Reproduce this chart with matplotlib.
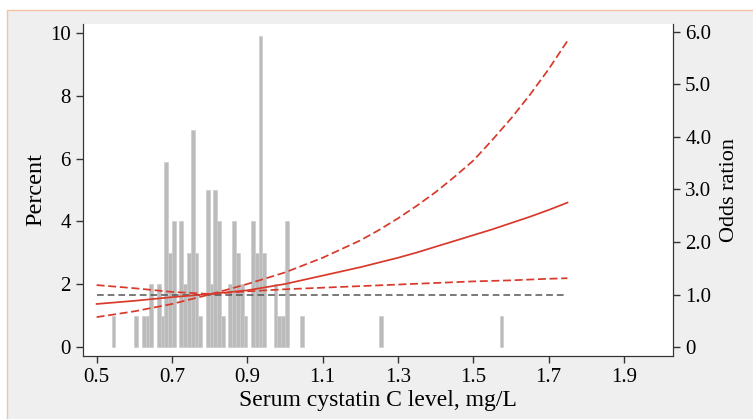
import matplotlib
matplotlib.use("Agg")
import matplotlib.pyplot as plt
from matplotlib.patches import Rectangle

plt.rcParams['font.family'] = ['Liberation Serif', 'DejaVu Serif']

# histogram of cystatin C (left edge of 0.01-wide bins, percent of patients)
bin_left = [0.54, 0.60, 0.62, 0.63, 0.64, 0.66, 0.67, 0.68, 0.69, 0.70,
            0.72, 0.73, 0.74, 0.75, 0.76, 0.77, 0.79, 0.80, 0.81, 0.82,
            0.83, 0.85, 0.86, 0.87, 0.88, 0.89, 0.91, 0.92, 0.93, 0.94,
            0.97, 0.98, 0.99, 1.00, 1.04, 1.25, 1.57]
percent = [1.0, 1.0, 1.0, 1.0, 2.0, 2.0, 1.0, 5.9, 3.0, 4.0,
           4.0, 2.0, 3.0, 6.9, 3.0, 1.0, 5.0, 2.0, 5.0, 4.0,
           1.0, 2.0, 4.0, 3.0, 2.0, 1.0, 4.0, 3.0, 9.9, 3.0,
           2.0, 1.0, 1.0, 4.0, 1.0, 1.0, 1.0]

# odds ratio curve and 95% CI
x_or = [0.5, 0.6, 0.7, 0.8, 0.9, 1.0, 1.1, 1.2, 1.25, 1.3, 1.35, 1.4,
        1.45, 1.5, 1.55, 1.6, 1.65, 1.7, 1.75]
or_mid = [0.82, 0.88, 0.95, 1.01, 1.08, 1.20, 1.36, 1.52, 1.61, 1.70, 1.80, 1.91,
          2.02, 2.13, 2.24, 2.36, 2.48, 2.61, 2.75]
or_up = [0.57, 0.68, 0.82, 1.00, 1.20, 1.42, 1.70, 2.03, 2.23, 2.45, 2.69, 2.95,
         3.24, 3.55, 3.94, 4.35, 4.80, 5.29, 5.83]
or_lo = [1.18, 1.12, 1.05, 1.01, 1.06, 1.10, 1.13, 1.16, 1.175, 1.19, 1.205, 1.22,
         1.235, 1.25, 1.26, 1.27, 1.285, 1.30, 1.31]
ref_x = [0.5, 1.75]
ref_y = [1.0, 1.0]

x_ticks = [0.5, 0.7, 0.9, 1.1, 1.3, 1.5, 1.7, 1.9]
x_ticklabels = ['0.5', '0.7', '0.9', '1.1', '1.3', '1.5', '1.7', '1.9']
left_ticks = [0, 2, 4, 6, 8, 10]
right_ticks = [0, 1, 2, 3, 4, 5, 6]
right_ticklabels = ['0', '1.0', '2.0', '3.0', '4.0', '5.0', '6.0']

red = '#d9392b'

fig = plt.figure(figsize=(7.53, 4.19), dpi=100)
fig.patch.set_facecolor('white')
fig.patches.append(Rectangle((7 / 753, -0.01), 1.0, 1 - 10 / 419 + 0.01,
                             transform=fig.transFigure, facecolor='#efefef',
                             edgecolor='#f3c3a3', lw=1.0, zorder=-10))

ax = fig.add_axes([0.1098, 0.1504, 0.7844, 0.7923])
ax.bar(bin_left, percent, width=0.01, align='edge', color='#bbbbbb',
       edgecolor='#cdcdcd', linewidth=0.5)
ax.set_xlim(0.463, 2.031)
ax.set_ylim(-0.29, 10.29)
ax.set_xticks(x_ticks)
ax.set_xticklabels(x_ticklabels)
ax.set_yticks(left_ticks)
ax.set_xlabel('Serum cystatin C level, mg/L', fontsize=17, labelpad=2)
ax.set_ylabel('Percent', fontsize=17.5, labelpad=3)
ax.tick_params(labelsize=15, color='#333333', length=5, width=1)
ax.spines['top'].set_visible(False)
for s in ['left', 'bottom', 'right']:
    ax.spines[s].set_color('#333333')

ax2 = ax.twinx()
ax2.plot(ref_x, ref_y, color='#555555', lw=1.1, dashes=(4.4, 2.6))
ax2.plot(x_or, or_mid, color=red, lw=1.25)
ax2.plot(x_or, or_up, color=red, lw=1.25, dashes=(4.6, 2.1))
ax2.plot(x_or, or_lo, color=red, lw=1.25, dashes=(4.6, 2.1))
ax2.set_ylim(-0.17, 6.15)
ax2.set_yticks(right_ticks)
ax2.set_yticklabels(right_ticklabels)
ax2.set_ylabel('Odds ration', fontsize=16, labelpad=6)
ax2.tick_params(labelsize=15, color='#333333', length=5, width=1)
ax2.spines['top'].set_visible(False)
for s in ['left', 'bottom', 'right']:
    ax2.spines[s].set_color('#333333')

fig.savefig('out.png', dpi=100)
